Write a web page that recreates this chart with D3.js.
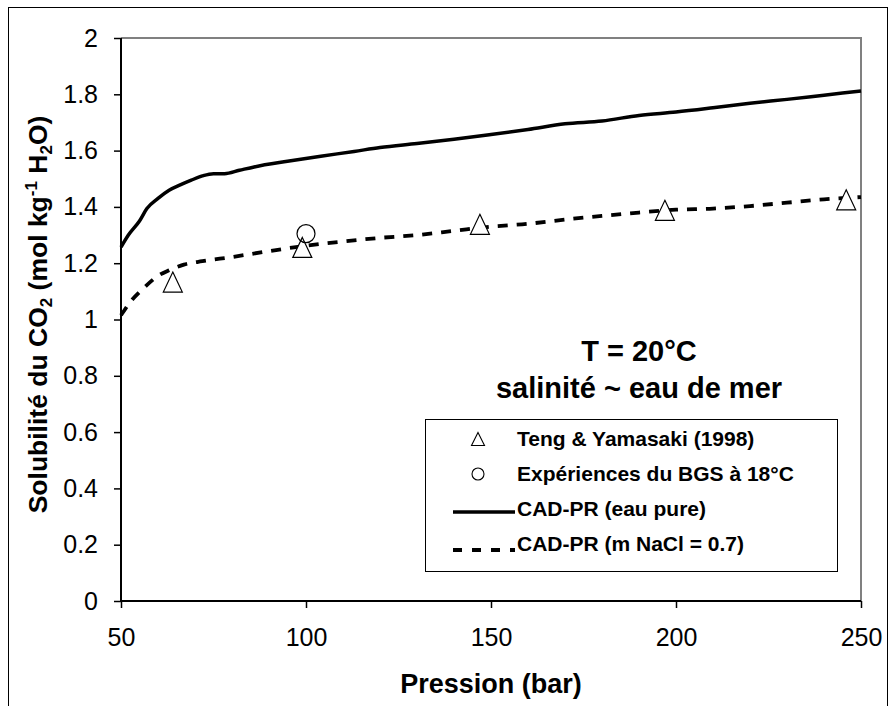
<!DOCTYPE html>
<html>
<head>
<meta charset="utf-8">
<script src="https://cdn.jsdelivr.net/npm/d3@7"></script>
<style>
  body { margin: 0; background: #fff; }
  svg { font-family: "Liberation Sans", Arial, sans-serif; }
</style>
</head>
<body>
<div class="canvas"></div>
<script>
// pression (bar) / solubilite (mol/kg)
const purePress = [50, 52, 55, 57, 60, 63, 66, 69, 72, 75, 78, 82, 86, 95, 104, 113, 120, 130, 140, 150, 160, 170, 180, 190, 200, 210, 220, 230, 240, 250];
const pureSol = [1.257, 1.30, 1.35, 1.394, 1.43, 1.459, 1.478, 1.495, 1.51, 1.518, 1.518, 1.53, 1.542, 1.562, 1.58, 1.597, 1.611, 1.625, 1.64, 1.657, 1.675, 1.695, 1.705, 1.725, 1.737, 1.752, 1.768, 1.782, 1.797, 1.812];

const naclPress = [50, 53, 56, 60, 63, 67, 72, 80, 90, 100, 110, 120, 130, 140, 150, 160, 170, 180, 190, 200, 210, 220, 230, 240, 250];
const naclSol = [1.015, 1.07, 1.11, 1.155, 1.175, 1.195, 1.207, 1.222, 1.243, 1.262, 1.277, 1.29, 1.30, 1.315, 1.33, 1.34, 1.355, 1.368, 1.38, 1.39, 1.394, 1.403, 1.415, 1.427, 1.435];

const tengPress = [64, 99, 147, 197, 246];
const tengSol = [1.133, 1.256, 1.338, 1.388, 1.425];

const bgsPress = [100];
const bgsSol = [1.305];

const xTicks = [50, 100, 150, 200, 250];
const yTicks = [0, 0.2, 0.4, 0.6, 0.8, 1, 1.2, 1.4, 1.6, 1.8, 2];

const legendLabels = ["Teng & Yamasaki (1998)", "Expériences du BGS à 18°C", "CAD-PR (eau pure)", "CAD-PR (m NaCl = 0.7)"];

const W = 890, H = 706;
const plot = { left: 121, right: 861, top: 38, bottom: 601 };

const svg = d3.select(".canvas").append("svg").attr("width", W).attr("height", H);

// outer frame
svg.append("rect").attr("x", 8.5).attr("y", 7.5).attr("width", 879).attr("height", 710)
  .attr("fill", "none").attr("stroke", "#000").attr("stroke-width", 1);

const x = d3.scaleLinear().domain([50, 250]).range([plot.left, plot.right]);
const y = d3.scaleLinear().domain([0, 2]).range([plot.bottom, plot.top]);

// top & right border (grey)
svg.append("path")
  .attr("d", `M${plot.left},${plot.top}H${plot.right}V${plot.bottom}`)
  .attr("fill", "none").attr("stroke", "#808080").attr("stroke-width", 2);

// axes
const xAxis = svg.append("g").attr("transform", `translate(0,${plot.bottom})`)
  .call(d3.axisBottom(x).tickValues(xTicks).tickSize(7).tickPadding(20).tickFormat(d3.format("d")));
const yAxis = svg.append("g").attr("transform", `translate(${plot.left},0)`)
  .call(d3.axisLeft(y).tickValues(yTicks).tickSize(7).tickPadding(16).tickFormat(d => String(d)));

[xAxis, yAxis].forEach(g => {
  g.select(".domain").attr("stroke", "#000").attr("stroke-width", 2);
  g.selectAll(".tick line").attr("stroke", "#000").attr("stroke-width", 1.5);
  g.selectAll(".tick text").attr("fill", "#000").style("font-size", "25px")
    .style("font-family", '"Liberation Sans", Arial, sans-serif');
});
xAxis.select(".domain").attr("d", `M${plot.left},0H${plot.right}`);
yAxis.select(".domain").attr("d", `M0,${plot.top}V${plot.bottom}`);
xAxis.selectAll(".tick text").attr("dy", "0.71em");

// curves
const line = d3.line().x(d => x(d[0])).y(d => y(d[1])).curve(d3.curveMonotoneX);

svg.append("path").datum(d3.zip(purePress, pureSol)).attr("d", line)
  .attr("fill", "none").attr("stroke", "#000").attr("stroke-width", 3.5);

svg.append("path").datum(d3.zip(naclPress, naclSol)).attr("d", line)
  .attr("fill", "none").attr("stroke", "#000").attr("stroke-width", 3.8)
  .attr("stroke-dasharray", "10,9");

// markers
const tri = (cx, cy, w, h) => `M${cx},${cy - h / 2}L${cx + w / 2},${cy + h / 2}L${cx - w / 2},${cy + h / 2}Z`;

svg.selectAll(".teng").data(d3.zip(tengPress, tengSol)).enter().append("path")
  .attr("class", "teng")
  .attr("d", d => tri(x(d[0]), y(d[1]), 19, 20))
  .attr("fill", "#fff").attr("stroke", "#000").attr("stroke-width", 1.2);

svg.selectAll(".bgs").data(d3.zip(bgsPress, bgsSol)).enter().append("circle")
  .attr("class", "bgs")
  .attr("cx", d => x(d[0])).attr("cy", d => y(d[1])).attr("r", 9)
  .attr("fill", "none").attr("stroke", "#000").attr("stroke-width", 1.2);

// axis titles
svg.append("text").attr("x", (plot.left + plot.right) / 2).attr("y", 693)
  .attr("text-anchor", "middle").style("font-size", "27px").style("font-weight", "bold")
  .text("Pression (bar)");

const yt = svg.append("text")
  .attr("transform", `translate(47,${(plot.top + plot.bottom) / 2 - 5}) rotate(-90)`)
  .attr("text-anchor", "middle").style("font-size", "26.5px").style("font-weight", "bold");
yt.append("tspan").text("Solubilité du CO");
yt.append("tspan").attr("dy", 5).style("font-size", "17px").text("2");
yt.append("tspan").attr("dy", -5).text(" (mol kg");
yt.append("tspan").attr("dy", -10).style("font-size", "17px").text("-1");
yt.append("tspan").attr("dy", 10).text(" H");
yt.append("tspan").attr("dy", 5).style("font-size", "17px").text("2");
yt.append("tspan").attr("dy", -5).text("O)");

// annotation
svg.append("text").attr("x", 639).attr("y", 361).attr("text-anchor", "middle")
  .style("font-size", "29px").style("font-weight", "bold").text("T = 20°C");
svg.append("text").attr("x", 639).attr("y", 398).attr("text-anchor", "middle")
  .style("font-size", "29px").style("font-weight", "bold").text("salinité ~ eau de mer");

// legend
const lg = svg.append("g");
lg.append("rect").attr("x", 425.5).attr("y", 419.5).attr("width", 412).attr("height", 152)
  .attr("fill", "#fff").attr("stroke", "#000").attr("stroke-width", 1);

const rowY = [446, 481, 516, 551];
lg.selectAll("text").data(legendLabels).enter().append("text")
  .attr("x", 517).attr("y", (d, i) => rowY[i])
  .style("font-size", "21px").style("font-weight", "bold").text(d => d);

lg.append("path").attr("d", tri(478, rowY[0] - 7, 13, 13))
  .attr("fill", "#fff").attr("stroke", "#000").attr("stroke-width", 1.1);
lg.append("circle").attr("cx", 478).attr("cy", rowY[1] - 7).attr("r", 6)
  .attr("fill", "none").attr("stroke", "#000").attr("stroke-width", 1.1);
lg.append("line").attr("x1", 453).attr("x2", 515).attr("y1", rowY[2] - 4).attr("y2", rowY[2] - 4)
  .attr("stroke", "#000").attr("stroke-width", 3.5);
lg.append("line").attr("x1", 453).attr("x2", 515).attr("y1", rowY[3] - 1).attr("y2", rowY[3] - 1)
  .attr("stroke", "#000").attr("stroke-width", 3.8).attr("stroke-dasharray", "9,10");
</script>
</body>
</html>
